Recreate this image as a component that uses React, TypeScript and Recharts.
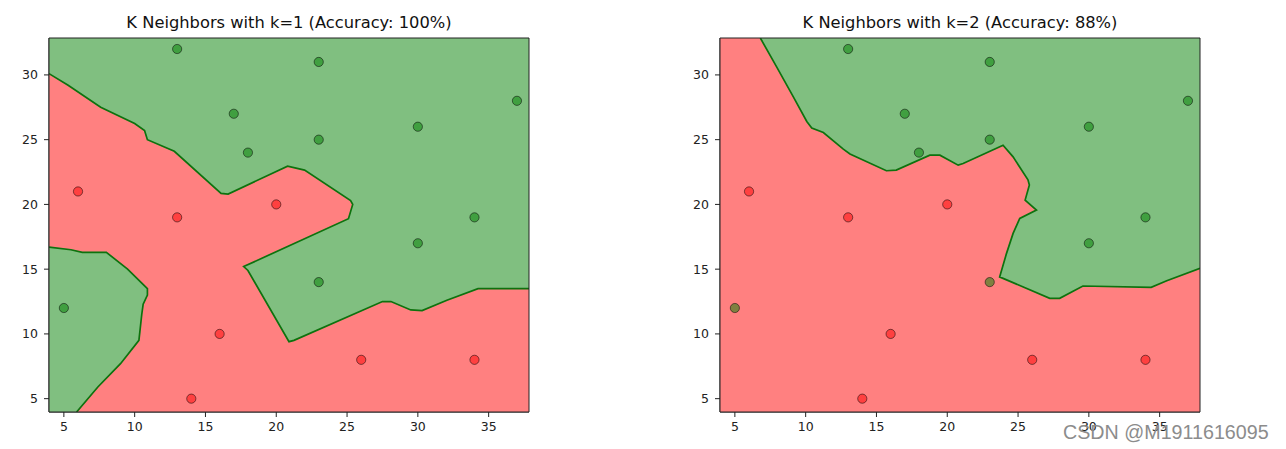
import React from 'react';
import { ComposedChart, Scatter, XAxis, YAxis } from 'recharts';

// ---------- data ----------
const X_DOMAIN: [number, number] = [3.95, 37.85];
const Y_DOMAIN: [number, number] = [3.97, 32.85];
const X_TICKS = [5, 10, 15, 20, 25, 30, 35];
const Y_TICKS = [5, 10, 15, 20, 25, 30];

const TITLES = ['K Neighbors with k=1 (Accuracy: 100%)', 'K Neighbors with k=2 (Accuracy: 88%)'];
const WATERMARK = 'CSDN @M1911616095';

const greenPts: [number, number][] = [
  [13, 32], [23, 31], [17, 27], [37, 28], [30, 26], [18, 24], [23, 25], [34, 19], [30, 17], [23, 14], [5, 12],
];
const redPts: [number, number][] = [
  [6, 21], [13, 19], [20, 20], [16, 10], [14, 5], [26, 8], [34, 8],
];

// k=1 decision boundary (left edge -> right edge)
const k1Boundary: [number, number][] = [
  [3.95, 30.1], [5.3, 29.2], [7.6, 27.5], [10, 26.25], [10.7, 25.7], [10.9, 25.0], [12.8, 24.1],
  [16.1, 20.85], [16.6, 20.8], [20.8, 22.95], [22, 22.65], [25.25, 20.3], [25.4, 20.0], [25.1, 18.9],
  [17.7, 15.2], [18.0, 14.9], [20.9, 9.4], [21.25, 9.5], [27.5, 12.5], [28.1, 12.5], [29.5, 11.85],
  [30.3, 11.8], [32.05, 12.6], [34.25, 13.5], [37.85, 13.5],
];
// k=1 lower-left green island (left edge -> bottom edge)
const k1Island: [number, number][] = [
  [3.95, 16.7], [5.5, 16.5], [6.3, 16.3], [8, 16.3], [9.5, 15], [10.9, 13.5], [10.9, 13], [10.6, 12.3],
  [10.5, 11.5], [10.3, 9.5], [9, 7.7], [7.4, 5.9], [5.9, 3.97],
];
// k=2 decision boundary (top edge -> right edge)
const k2Boundary: [number, number][] = [
  [6.8, 32.85], [7.96, 30.6], [9.13, 28.3], [10.08, 26.4], [10.43, 25.9], [11.25, 25.55], [12.66, 24.27],
  [13.13, 23.9], [15.7, 22.6], [16.4, 22.65], [18.77, 23.8], [19.48, 23.8], [20.77, 23.03], [21.12, 23.16],
  [23.94, 24.57], [24.65, 23.67], [25.7, 21.9], [25.8, 21.5], [25.5, 20.33], [26.3, 19.56], [25.12, 18.92],
  [24.65, 17.76], [24.18, 16.2], [23.7, 14.4], [23.94, 14.29], [27.24, 12.75], [27.94, 12.75], [29.58, 13.7],
  [34.4, 13.6], [35.5, 14.1], [37.85, 15.07],
];

// ---------- helpers ----------
const toObj = (arr: [number, number][]) => arr.map(([x, y]) => ({ x, y }));
const [X0, X1] = X_DOMAIN;
const [Y0, Y1] = Y_DOMAIN;
const fullRect = toObj([[X0, Y0], [X1, Y0], [X1, Y1], [X0, Y1]]);

const RED_BG = '#ff8080';
const GREEN_BG = '#80bf80';
const BOUNDARY = '#0e720e';

const polygonLine = (fill: string, stroke?: string) => (props: any) => {
  const pts = (props.points || []).filter((p: any) => p && p.x != null && p.y != null);
  if (!pts.length) return <g />;
  const d = pts.map((p: any, i: number) => `${i ? 'L' : 'M'}${p.x},${p.y}`).join(' ') + ' Z';
  return stroke ? (
    <path d={d} fill="none" stroke={stroke} strokeWidth={1} />
  ) : (
    <path d={d} fill={fill} stroke={fill} strokeWidth={0.6} />
  );
};

const noShape = () => <g />;

const dot = (fill: string) => (props: any) => (
  <circle cx={props.cx} cy={props.cy} r={4.6} fill={fill} fillOpacity={0.5} stroke="#000" strokeOpacity={0.5} strokeWidth={1} />
);

const tickStyle = { fontSize: 12.5, fill: '#222', fontFamily: 'DejaVu Sans' };

type Region = { poly: { x: number; y: number }[]; line: { x: number; y: number }[] };

function Panel({ width, yAxisWidth, rightMargin, regions }: { width: number; yAxisWidth: number; rightMargin: number; regions: Region[] }) {
  return (
    <ComposedChart width={width} height={449} margin={{ top: 38, right: rightMargin, bottom: 7, left: 0 }}>
      <XAxis
        xAxisId="b"
        type="number"
        dataKey="x"
        domain={X_DOMAIN}
        ticks={X_TICKS}
        allowDataOverflow
        height={30}
        tickSize={5}
        tickMargin={5}
        tick={tickStyle}
        axisLine={{ stroke: '#222' }}
        tickLine={{ stroke: '#222' }}
      />
      <XAxis xAxisId="t" orientation="top" type="number" dataKey="x" domain={X_DOMAIN} height={0} tick={false} tickLine={false} axisLine={false} />
      <YAxis
        yAxisId="l"
        type="number"
        dataKey="y"
        domain={Y_DOMAIN}
        ticks={Y_TICKS}
        allowDataOverflow
        width={yAxisWidth}
        tickSize={5}
        tickMargin={6}
        tick={tickStyle}
        axisLine={{ stroke: '#222' }}
        tickLine={{ stroke: '#222' }}
      />
      <YAxis yAxisId="r" orientation="right" type="number" dataKey="y" domain={Y_DOMAIN} width={0} tick={false} tickLine={false} axisLine={false} />

      <Scatter xAxisId="b" yAxisId="l" data={fullRect} line={polygonLine(RED_BG)} shape={noShape} isAnimationActive={false} />
      {regions.map((r, i) => (
        <Scatter key={'p' + i} xAxisId="b" yAxisId="l" data={r.poly} line={polygonLine(GREEN_BG)} shape={noShape} isAnimationActive={false} />
      ))}
      {regions.map((r, i) => (
        <Scatter key={'l' + i} xAxisId="b" yAxisId="l" data={r.line} line={{ stroke: BOUNDARY, strokeWidth: 1.7 }} lineJointType="linear" shape={noShape} isAnimationActive={false} />
      ))}
      <Scatter xAxisId="b" yAxisId="l" data={toObj(greenPts)} shape={dot('#008000')} isAnimationActive={false} />
      <Scatter xAxisId="b" yAxisId="l" data={toObj(redPts)} shape={dot('#ff0000')} isAnimationActive={false} />
      <Scatter xAxisId="t" yAxisId="r" data={fullRect} line={polygonLine('none', '#222')} shape={noShape} isAnimationActive={false} />
    </ComposedChart>
  );
}

const k1Regions: Region[] = [
  { poly: toObj([...k1Boundary, [X1, Y1], [X0, Y1]]), line: toObj(k1Boundary) },
  { poly: toObj([...k1Island, [X0, Y0]]), line: toObj(k1Island) },
];
const k2Regions: Region[] = [
  { poly: toObj([...k2Boundary, [X1, Y1]]), line: toObj(k2Boundary) },
];

const titleStyle: React.CSSProperties = {
  position: 'absolute',
  top: 13,
  width: 480,
  textAlign: 'center',
  fontFamily: 'DejaVu Sans',
  fontSize: 16.3,
  color: '#111',
  whiteSpace: 'nowrap',
};

export default function App() {
  return (
    <div style={{ position: 'absolute', left: 0, top: 0, width: 1286, height: 449, background: '#fff', overflow: 'hidden' }}>
      <div style={{ position: 'absolute', left: 0, top: 0 }}>
        <Panel width={640} yAxisWidth={49} rightMargin={111} regions={k1Regions} />
      </div>
      <div style={{ position: 'absolute', left: 640, top: 0 }}>
        <Panel width={646} yAxisWidth={80} rightMargin={86} regions={k2Regions} />
      </div>
      <div style={{ ...titleStyle, left: 49 }}>{TITLES[0]}</div>
      <div style={{ ...titleStyle, left: 720 }}>{TITLES[1]}</div>
      <div
        style={{
          position: 'absolute',
          left: 1063,
          top: 423,
          fontFamily: 'Liberation Sans, Arial, sans-serif',
          fontSize: 19.7,
          lineHeight: 1,
          color: '#8c8c8c',
          whiteSpace: 'nowrap',
        }}
      >
        {WATERMARK}
      </div>
    </div>
  );
}
